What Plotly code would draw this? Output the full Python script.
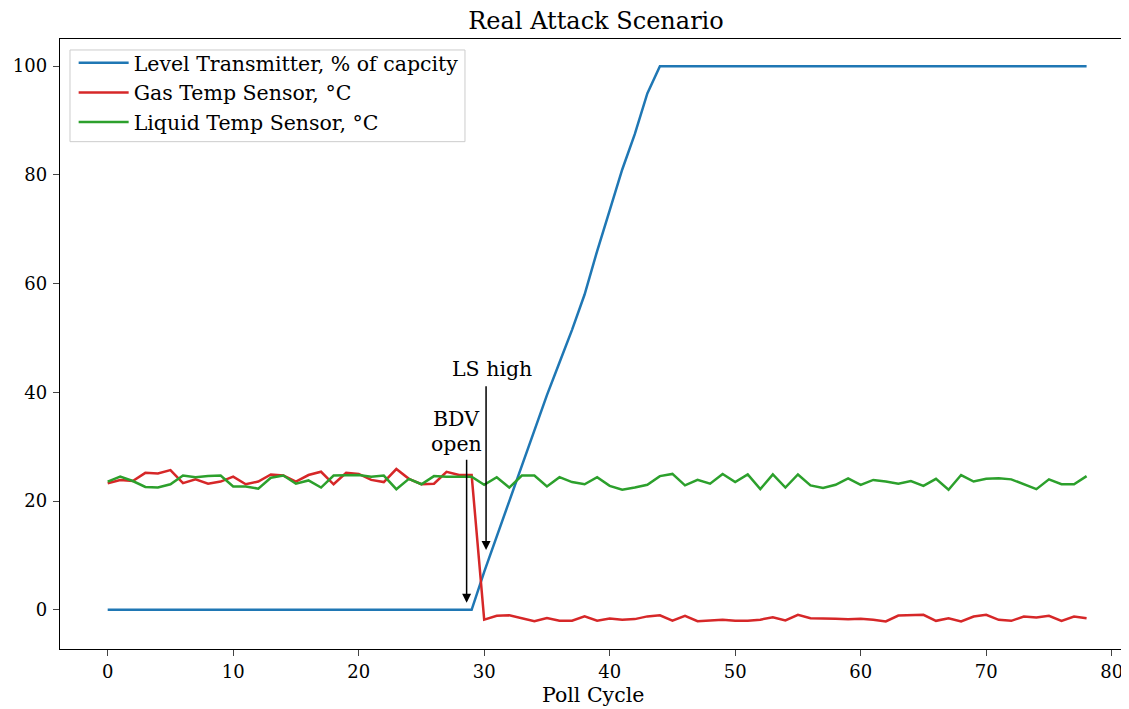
import plotly.graph_objects as go

poll_cycle = list(range(79))

level_transmitter = [0] * 30 + [7, 13.5, 20, 26.5, 33, 39.5, 45.5, 51.5, 58, 66, 73.5, 81, 87.5, 95] + [100] * 35

gas_temp = [23.3, 23.9, 23.7, 25.2, 25.1, 25.7, 23.3, 24.0, 23.2, 23.6,
            24.5, 23.1, 23.6, 24.9, 24.7, 23.6, 24.8, 25.4, 23.1, 25.2,
            25.0, 23.9, 23.5, 25.9, 24.1, 23.1, 23.2, 25.4, 24.8, 24.8,
            -1.8, -1.1, -1.0, -1.5, -2.1, -1.5, -2.0, -2.0, -1.2, -2.0,
            -1.6, -1.8, -1.7, -1.2, -1.0, -2.0, -1.1, -2.1, -2.0, -1.8,
            -2.0, -2.0, -1.8, -1.35, -1.96, -0.92, -1.53, -1.53, -1.65, -1.72,
            -1.65, -1.84, -2.14, -1.04, -1.04, -0.92, -2.02, -1.53, -2.14, -1.23,
            -0.92, -1.84, -2.02, -1.23, -1.41, -1.10, -2.02, -1.23, -1.53]

liquid_temp = [23.6, 24.5, 23.7, 22.6, 22.5, 23.1, 24.7, 24.4, 24.6, 24.7,
               22.7, 22.7, 22.3, 24.3, 24.7, 23.2, 23.8, 22.5, 24.7, 24.7,
               24.8, 24.5, 24.7, 22.2, 24.1, 23.1, 24.6, 24.5, 24.5, 24.5,
               23.0, 24.4, 22.5, 24.7, 24.7, 22.7, 24.4, 23.5, 23.1, 24.4,
               22.8, 22.1, 22.5, 23.0, 24.6, 25.0, 22.9, 23.9, 23.2, 25.0,
               23.5, 24.9, 22.2, 24.9, 22.5, 24.9, 22.9, 22.4, 23.0, 24.2,
               23.0, 23.9, 23.6, 23.2, 23.7, 22.8, 24.1, 22.1, 24.8, 23.6,
               24.1, 24.2, 24.0, 23.1, 22.2, 24.0, 23.1, 23.1, 24.6]

series_names = ["Level Transmitter, % of capcity", "Gas Temp Sensor, °C", "Liquid Temp Sensor, °C"]
series_colors = ["#1f77b4", "#d62728", "#2ca02c"]

x_ticks = [0, 10, 20, 30, 40, 50, 60, 70, 80]
y_ticks = [0, 20, 40, 60, 80, 100]

# annotation data: (label, text x, text y) and (tail x, tail y, head x, head y)
ls_text = ("LS high", 30.6, 44.3)
ls_arrow = (30.15, 41.4, 30.15, 11.0)
bdv_text1 = ("BDV", 27.8, 35.1)
bdv_text2 = ("open", 27.8, 30.5)
bdv_arrow = (28.6, 27.9, 28.6, 1.3)

FONT = "DejaVu Serif"
W, H = 1121, 701  # page body offsets the figure by 8px

fig = go.Figure()
for vals, name, col in zip([level_transmitter, gas_temp, liquid_temp], series_names, series_colors):
    fig.add_trace(go.Scatter(x=poll_cycle, y=vals, mode="lines", name=name,
                             line=dict(color=col, width=2.5)))

for t in [ls_text, bdv_text1, bdv_text2]:
    fig.add_annotation(x=t[1], y=t[2], text=t[0], showarrow=False, xref="x", yref="y",
                       xanchor="center", yanchor="middle",
                       font=dict(family=FONT, size=20.5, color="black"))

for a in [ls_arrow, bdv_arrow]:
    fig.add_annotation(x=a[2], y=a[3], ax=a[0], ay=a[1], xref="x", yref="y",
                       axref="x", ayref="y", text="", showarrow=True,
                       arrowhead=2, arrowsize=1.2, arrowwidth=1.5, arrowcolor="black")

fig.add_annotation(x=0.5, y=-0.075, xref="paper", yref="paper", text="Poll Cycle",
                   showarrow=False, xanchor="center", yanchor="middle",
                   font=dict(family=FONT, size=20.5, color="black"))

# legend frame
fig.add_shape(type="rect", xref="paper", yref="paper",
              x0=0.00938, x1=0.3799, y0=0.8317, y1=0.982, layer="above",
              line=dict(color="#cccccc", width=1), fillcolor="rgba(255,255,255,0.8)")

fig.update_layout(
    width=W, height=H,
    margin=dict(l=52, r=3, t=31, b=59.7, autoexpand=False),
    paper_bgcolor="white", plot_bgcolor="white",
    font=dict(family=FONT, size=18, color="black"),
    title=dict(text="Real Attack Scenario", x=588 / W, xref="container", xanchor="center",
               y=1.0, yref="container", yanchor="top", pad=dict(t=4),
               font=dict(family=FONT, size=24, color="black")),
    showlegend=True,
    legend=dict(x=0.0128, y=0.9935, xanchor="left", yanchor="top", itemwidth=50,
                bgcolor="rgba(0,0,0,0)", borderwidth=0,
                font=dict(family=FONT, size=20.5, color="black")),
    xaxis=dict(range=[-3.8, 81.14], tickvals=x_ticks, ticks="outside", ticklen=6, tickwidth=1.4,
               showline=True, linecolor="black", linewidth=1.4, mirror=True, automargin=False,
               showgrid=False, zeroline=False, tickfont=dict(family=FONT, size=18, color="black")),
    yaxis=dict(range=[-7.2, 105.0], tickvals=y_ticks, ticks="outside", ticklen=6, tickwidth=1.4,
               showline=True, linecolor="black", linewidth=1.4, mirror=True, automargin=False,
               ticklabelstandoff=2,
               showgrid=False, zeroline=False, tickfont=dict(family=FONT, size=18, color="black")),
)

fig.write_html("out.html")
